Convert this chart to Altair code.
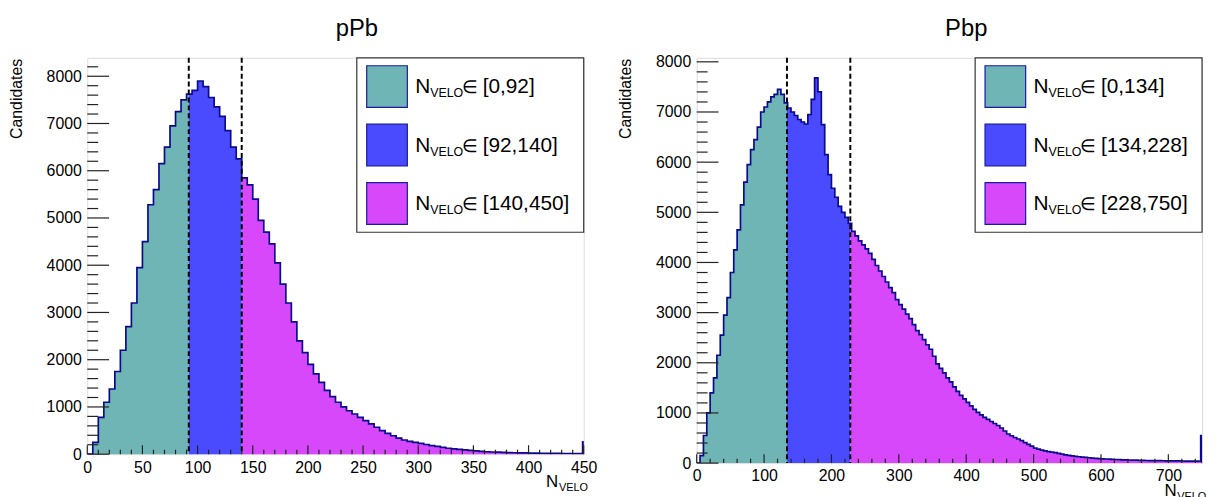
import altair as alt
import pandas as pd
import numpy as np

# ---------------- data ----------------
BIN_W = 5

# pPb : counts per 5-unit bin of N_VELO from 0 to 450
ppb_counts = [
    0, 250, 780, 1100, 1380, 1750, 2200, 2700, 3200, 3950,
    4500, 5280, 5600, 6150, 6500, 6950, 7250, 7500, 7620, 7700,
    7900, 7780, 7550, 7350, 7150, 6850, 6500, 6250, 5850, 5700,
    5400, 4950, 4700, 4450, 4050, 3600, 3200, 2800, 2400, 2150,
    1900, 1700, 1520, 1350, 1220, 1100, 1000, 920, 850, 780,
    710, 640, 570, 500, 440, 390, 340, 300, 270, 250,
    230, 205, 180, 165, 145, 125, 112, 100, 90, 80,
    70, 60, 52, 46, 42, 38, 34, 31, 28, 26,
    24, 22, 20, 18, 17, 16, 15, 14, 13, 13,
]
ppb_last_bin = [449, 450, 260]          # overflow-like spike in the last bin
ppb_bounds = [0, 92, 140, 450]
ppb_ranges = ["[0,92]", "[92,140]", "[140,450]"]
ppb_xticks = [0, 50, 100, 150, 200, 250, 300, 350, 400, 450]
ppb_ymax = 8390

# Pbp : counts per 5-unit bin of N_VELO from 0 to 750
pbp_counts = [
    0, 150, 550, 1000, 1400, 1700, 2150, 2550, 2950, 3300,
    3800, 4250, 4650, 5150, 5600, 5950, 6250, 6450, 6700, 7000,
    7100, 7200, 7300, 7350, 7450, 7350, 7180, 7080, 7000, 6930,
    6850, 6800, 6760, 6950, 7250, 7680, 7400, 6750, 6150, 5750,
    5480, 5300, 5120, 5000, 4900, 4780, 4620, 4530, 4430, 4350,
    4270, 4180, 4060, 3940, 3830, 3720, 3610, 3500, 3400, 3260,
    3160, 3070, 2970, 2880, 2760, 2640, 2560, 2460, 2360, 2270,
    2130, 1980, 1890, 1800, 1700, 1620, 1520, 1430, 1350, 1280,
    1210, 1140, 1070, 1010, 960, 910, 870, 830, 790, 750,
    700, 640, 580, 545, 510, 480, 450, 410, 375, 340,
    300, 280, 260, 245, 230, 220, 210, 195, 180, 165,
    155, 145, 135, 127, 120, 113, 107, 100, 95, 90,
    86, 82, 78, 75, 72, 69, 66, 64, 62, 60,
    58, 56, 54, 52, 51, 50, 49, 48, 47, 46,
    46, 45, 44, 43, 42, 41, 40, 39, 38, 37,
]
pbp_last_bin = [748, 750, 550]
pbp_bounds = [0, 134, 228, 750]
pbp_ranges = ["[0,134]", "[134,228]", "[228,750]"]
pbp_xticks = [0, 100, 200, 300, 400, 500, 600, 700]
pbp_ymax = 8080

yticks = [0, 1000, 2000, 3000, 4000, 5000, 6000, 7000, 8000]

# ---------------- styles ----------------
FONT = "Liberation Sans"
FILLS = ["#6fb5b5", "#4a4aff", "#d648fa"]
LINE = "#0a0a8c"


def panel(counts, last_bin, bounds, ranges, xticks, ymax, title,
          W, H, minor_x, top_pad, left_pad, right_ext):
    xmax = bounds[-1]
    bins = []
    for i, c in enumerate(counts):
        lo, hi = i * BIN_W, (i + 1) * BIN_W
        if hi > last_bin[0] and lo < last_bin[0]:
            bins.append((lo, last_bin[0], c))
            bins.append((last_bin[0], last_bin[1], last_bin[2]))
        else:
            bins.append((lo, hi, c))
    # filled step areas, one per N_VELO range
    apts = []
    for r in range(3):
        for lo, hi, c in bins:
            a, b = max(lo, bounds[r]), min(hi, bounds[r + 1])
            if a < b:
                apts.append({"x": a, "y": c, "reg": ranges[r]})
                apts.append({"x": b, "y": c, "reg": ranges[r]})
    area_df = pd.DataFrame(apts)
    pts = []
    k = 0
    for lo, hi, c in bins:
        pts.append({"x": lo, "y": c, "i": k}); k += 1
        pts.append({"x": hi, "y": c, "i": k}); k += 1
    pts.append({"x": xmax, "y": 0, "i": k})
    line_df = pd.DataFrame(pts)

    xs = alt.Scale(domain=[0, xmax], nice=False, zero=True)
    ys = alt.Scale(domain=[0, ymax], nice=False, zero=True)
    cs = alt.Scale(domain=ranges, range=FILLS)

    xaxis = alt.Axis(values=xticks, format="d", ticks=False, tickSize=0, domain=False,
                     grid=False, labelPadding=5, title=None, labelFontSize=16,
                     labelFont=FONT, labelColor="black", labelFlush=False)
    yaxis = alt.Axis(values=yticks, format="d", ticks=False, tickSize=0, domain=False,
                     grid=False, labelPadding=6, title=None, labelFontSize=16,
                     labelFont=FONT, labelColor="black")

    fill = alt.Chart(area_df).mark_area(interpolate="linear").encode(
        x=alt.X("x:Q", scale=xs, axis=xaxis),
        y=alt.Y("y:Q", scale=ys, axis=yaxis, stack=None),
        color=alt.Color("reg:N", scale=cs, legend=None),
    )
    outline = alt.Chart(line_df).mark_line(color=LINE, strokeWidth=1.7, clip=True).encode(
        x="x:Q", y="y:Q", order="i:Q")

    cuts = alt.Chart(pd.DataFrame({"b": bounds[1:3]})).mark_rule(
        color="black", strokeWidth=2, strokeDash=[5, 3]).encode(x="b:Q")

    # ticks drawn inside the frame (ROOT style)
    ymajor = pd.DataFrame({"t": yticks})
    yminor = pd.DataFrame({"t": [v for v in np.arange(0, ymax + 1, 200) if v % 1000 != 0]})
    xmajor = pd.DataFrame({"t": xticks})
    xminor = pd.DataFrame({"t": [v for v in np.arange(0, xmax + 1, minor_x)
                                 if v not in xticks]})
    tk = dict(color="#222222", strokeWidth=1.2)
    t1 = alt.Chart(ymajor).mark_rule(**tk).encode(y="t:Q", x=alt.value(0), x2=alt.value(22))
    t2 = alt.Chart(yminor).mark_rule(**tk).encode(y="t:Q", x=alt.value(0), x2=alt.value(11))
    t3 = alt.Chart(xmajor).mark_rule(**tk).encode(x="t:Q", y=alt.value(H), y2=alt.value(H - 9))
    t4 = alt.Chart(xminor).mark_rule(**tk).encode(x="t:Q", y=alt.value(H), y2=alt.value(H - 4.5))

    one = pd.DataFrame({"a": [0]})
    # legend box
    lx0, lx1 = W - 229, W
    box = alt.Chart(one).mark_rect(fill="white", stroke="#333333", strokeWidth=1.2).encode(
        x=alt.value(lx0), x2=alt.value(lx1), y=alt.value(0), y2=alt.value(176))
    leg = pd.DataFrame({
        "sx": [lx0 + 10] * 3, "sx2": [lx0 + 51] * 3,
        "sy": [8 + 59 * j for j in range(3)], "sy2": [50 + 59 * j for j in range(3)],
        "reg": ranges,
        "tx": [lx0 + 59] * 3, "ty": [36 + 59 * j for j in range(3)],
    })
    leg["tx2"] = leg["tx"] + 15
    leg["ty2"] = leg["ty"] + 4
    leg["tx3"] = leg["tx2"] + 32
    leg["tx4"] = leg["tx3"] + 21
    leg["txt"] = ranges
    sw = alt.Chart(leg).mark_rect(stroke="#1a1aa0", strokeWidth=1.2).encode(
        x=alt.X("sx:Q", scale=None), x2="sx2:Q",
        y=alt.Y("sy:Q", scale=None), y2="sy2:Q",
        fill=alt.Fill("reg:N", scale=cs, legend=None))
    tN = alt.Chart(leg).mark_text(text="N", fontSize=21, font=FONT, align="left",
                                  baseline="alphabetic", color="black").encode(
        x=alt.X("tx:Q", scale=None), y=alt.Y("ty:Q", scale=None))
    tV = alt.Chart(leg).mark_text(text="VELO", fontSize=12.5, font=FONT, align="left",
                                  baseline="alphabetic", color="black").encode(
        x=alt.X("tx2:Q", scale=None), y=alt.Y("ty2:Q", scale=None))
    tE = alt.Chart(leg).mark_text(text="\u2208", fontSize=18, font="DejaVu Sans",
                                  fontWeight=300, align="left",
                                  baseline="alphabetic", color="black").encode(
        x=alt.X("tx3:Q", scale=None), y=alt.Y("ty:Q", scale=None))
    tR = alt.Chart(leg).mark_text(fontSize=21, font=FONT, align="left",
                                  baseline="alphabetic", color="black").encode(
        x=alt.X("tx4:Q", scale=None), y=alt.Y("ty:Q", scale=None), text="txt:N")

    # titles
    ttl = alt.Chart(one).mark_text(text=title, fontSize=24, font=FONT, align="center",
                                   baseline="alphabetic", color="black").encode(
        x=alt.value(272), y=alt.value(-22))
    ytl = alt.Chart(one).mark_text(text="Candidates", fontSize=16, font=FONT, angle=270,
                                   align="right", baseline="middle", color="black").encode(
        x=alt.value(-71), y=alt.value(1))
    xN = alt.Chart(one).mark_text(text="N", fontSize=17, font=FONT, align="left",
                                  baseline="alphabetic", color="black").encode(
        x=alt.value(W - 38), y=alt.value(H + 33))
    xV = alt.Chart(one).mark_text(text="VELO", fontSize=11, font=FONT, align="left",
                                  baseline="alphabetic", color="black").encode(
        x=alt.value(W - 25), y=alt.value(H + 37))
    # invisible anchors fixing the panel's outer bounds
    anchor = alt.Chart(one).mark_rule(opacity=0, strokeWidth=0.1).encode(
        x=alt.value(-left_pad), x2=alt.value(W + right_ext),
        y=alt.value(-top_pad))

    return alt.layer(fill, outline, cuts, t1, t2, t3, t4, box, sw, tN, tV, tE, tR,
                     ttl, ytl, xN, xV, anchor).properties(width=W, height=H)


left = panel(ppb_counts, ppb_last_bin, ppb_bounds, ppb_ranges, ppb_xticks, ppb_ymax,
             "pPb", 501, 400, 10, 47, 78, 9)
right = panel(pbp_counts, pbp_last_bin, pbp_bounds, pbp_ranges, pbp_xticks, pbp_ymax,
              "Pbp", 510, 409, 20, 44, 95, 0)

chart = alt.hconcat(left, right, spacing=4).properties(
    padding={"left": 0, "top": 0, "right": 0, "bottom": 0}
).configure_view(stroke="#222222", strokeWidth=1.2).configure(background="white")

chart.save("out.html", embed_options={"renderer": "svg", "actions": False})
